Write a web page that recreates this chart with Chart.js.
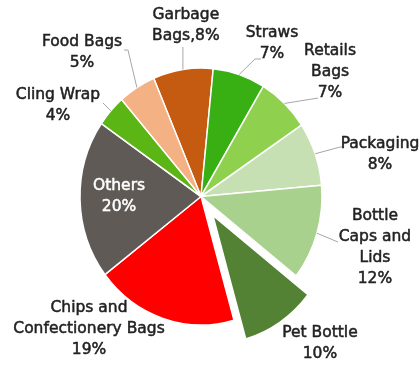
<!DOCTYPE html>
<html>
<head>
<meta charset="utf-8">
<script src="https://cdn.jsdelivr.net/npm/chart.js@4/dist/chart.umd.min.js"></script>
<style>
  html, body { margin: 0; padding: 0; background: #ffffff; }
  #wrap { width: 419px; height: 365px; }
</style>
</head>
<body>
<div id="wrap"><canvas id="c" width="419" height="365"></canvas></div>
<script>
// ---- data ----
const categories = ['Garbage Bags', 'Straws', 'Retails Bags', 'Packaging', 'Bottle Caps and Lids',
                    'Pet Bottle', 'Chips and Confectionery Bags', 'Others', 'Cling Wrap', 'Food Bags'];
const shares = [8, 7, 7, 8, 12, 10, 19, 20, 4, 5];
// label text lines; {v} is replaced by the share
const labelLines = [
  ['Garbage', 'Bags,{v}%'],
  ['Straws', '{v}%'],
  ['Retails', 'Bags', '{v}%'],
  ['Packaging', '{v}%'],
  ['Bottle', 'Caps and', 'Lids', '{v}%'],
  ['Pet Bottle', '{v}%'],
  ['Chips and', 'Confectionery Bags', '{v}%'],
  ['Others', '{v}%'],
  ['Cling Wrap', '{v}%'],
  ['Food Bags', '{v}%']
];

// ---- styles ----
const colors = ['#C55A11', '#38B014', '#8FD14F', '#C6E0B4', '#A9D18E',
                '#548235', '#FF0000', '#5F5A56', '#5BB514', '#F4B183'];
const explode = [0, 0, 0, 0, 0, 22, 0, 0, 0, 0];   // px, pure translation of the slice
const squash = { sx: 0.968, sy: 1.028 };            // slight oval like the reference
// label block centre relative to the slice's outer mid point
const labelShift = [[3, -44.4], [32.8, -31.6], [45.6, -31.4], [64.9, 0.7], [58, 13.8],
                    [39.8, 21.4], [-73.8, 10.6], [39, -3.1], [-52.8, -4.9], [-54.9, -35.5]];
// leader line end relative to the slice's outer mid point (null = no leader), plus short hook
const leaderShift = [[0, -22.4, 0], [15.8, -15.6, 6], [33.6, -5.4, 0], [24.9, -6.8, 3], [21, 8.8, 0],
                     null, null, null, [-7.8, -7.9, 0], [-8.9, -37.5, -4]];
const labelColor = ['#222222', '#222222', '#222222', '#222222', '#222222',
                    '#222222', '#222222', '#ffffff', '#222222', '#222222'];

const labelPlugin = {
  id: 'outLabels',
  beforeDatasetsDraw(chart) {
    const ctx = chart.ctx;
    const meta = chart.getDatasetMeta(0);
    // explode slices by translating them (library still draws each arc)
    meta.data.forEach((arc, i) => {
      if (!explode[i] || arc._exploded) return;
      const orig = arc.draw;
      arc.draw = function (c) {
        const mid = (this.startAngle + this.endAngle) / 2;
        c.save();
        c.translate(Math.cos(mid) * explode[i], Math.sin(mid) * explode[i]);
        orig.call(this, c);
        c.restore();
      };
      arc._exploded = true;
    });
    const a = meta.data[0];
    ctx.save();
    ctx.translate(a.x, a.y);
    ctx.scale(squash.sx, squash.sy);
    ctx.translate(-a.x, -a.y);
  },
  afterDatasetsDraw(chart) {
    const ctx = chart.ctx;
    ctx.restore();
    const meta = chart.getDatasetMeta(0);
    ctx.save();
    meta.data.forEach((arc, i) => {
      const p = arc.getProps(['x', 'y', 'startAngle', 'endAngle', 'outerRadius'], true);
      const mid = (p.startAngle + p.endAngle) / 2;
      const r = explode[i] + p.outerRadius;
      const ax = p.x + Math.cos(mid) * r * squash.sx;
      const ay = p.y + Math.sin(mid) * r * squash.sy;
      const ls = leaderShift[i];
      if (ls) {
        ctx.strokeStyle = '#a6a6a6';
        ctx.lineWidth = 1;
        ctx.beginPath();
        ctx.moveTo(ax, ay);
        ctx.lineTo(ax + ls[0], ay + ls[1]);
        if (ls[2]) ctx.lineTo(ax + ls[0] + ls[2], ay + ls[1]);
        ctx.stroke();
      }
      const lines = labelLines[i].map(s => s.replace('{v}', shares[i]));
      const lh = 21;
      const bx = ax + labelShift[i][0];
      const by = ay + labelShift[i][1];
      ctx.fillStyle = labelColor[i];
      ctx.strokeStyle = labelColor[i];
      ctx.lineWidth = 0.5;
      ctx.lineJoin = 'round';
      ctx.font = '15.5px "DejaVu Sans", sans-serif';
      ctx.textAlign = 'center';
      ctx.textBaseline = 'middle';
      lines.forEach((t, k) => {
        const ty = by + (k - (lines.length - 1) / 2) * lh;
        ctx.fillText(t, bx, ty);
        ctx.strokeText(t, bx, ty);
      });
    });
    ctx.restore();
  }
};

new Chart(document.getElementById('c'), {
  type: 'pie',
  data: {
    labels: categories,
    datasets: [{
      data: shares,
      backgroundColor: colors,
      borderColor: '#ffffff',
      borderWidth: 1.5
    }]
  },
  options: {
    responsive: false,
    devicePixelRatio: 1,
    animation: false,
    rotation: -23,
    radius: 125,
    layout: { padding: { left: 0, right: 17, top: 28, bottom: 0 } },
    plugins: {
      legend: { display: false },
      tooltip: { enabled: false }
    }
  },
  plugins: [labelPlugin]
});
</script>
</body>
</html>
